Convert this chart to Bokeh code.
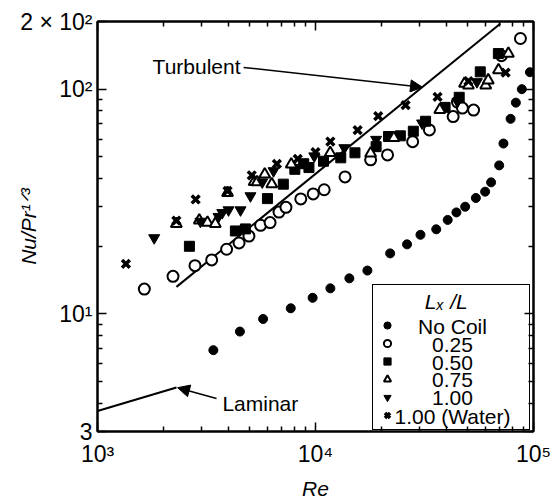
from bokeh.plotting import figure
from bokeh.models import (Range1d, FixedTicker, LogAxis, Legend, LegendItem, Label,
                          Arrow, NormalHead)
from bokeh.embed import file_html
from bokeh.resources import INLINE

# ---------------- data ----------------
RE_NO_COIL = [3400, 4500, 5750, 7700, 9700, 11700, 14300, 17300, 22000, 26300, 30300, 35800,
              40400, 44300, 48600, 54400, 60000, 63900, 69600, 72800, 78500, 83000, 88400, 96300]
NU_NO_COIL = [6.9, 8.35, 9.5, 10.6, 11.8, 13.0, 14.4, 15.6, 18.6, 20.4, 22.5, 23.8,
              26.2, 28.3, 30.0, 32.8, 35.0, 38.5, 45.8, 57.3, 73.8, 87.1, 100.0, 119.0]

RE_025 = [1640, 2220, 2800, 3340, 3910, 4460, 4950, 5600, 6190, 6800, 7320, 8560, 9760, 10960,
          13660, 17900, 21400, 27900, 33300, 42800, 44800, 47200, 53100, 71300, 87100]
NU_025 = [12.9, 14.7, 16.4, 17.4, 19.4, 20.7, 22.2, 24.8, 25.5, 28.4, 29.8, 32.5, 34.2, 35.7,
          40.7, 48.5, 51.0, 58.4, 65.9, 75.5, 87.6, 82.4, 80.7, 141.0, 168.0]

RE_050 = [2640, 4290, 4770, 6020, 7120, 8040, 8830, 9330, 10880, 13060, 15170, 18970, 21630,
          24500, 28100, 31990, 39310, 45630, 57000, 69000]
NU_050 = [20.0, 23.4, 23.9, 32.6, 37.8, 44.0, 46.6, 44.8, 47.8, 49.5, 52.1, 55.5, 61.6,
          62.0, 65.0, 72.0, 83.0, 92.0, 119.4, 144.0]

RE_075 = [2300, 2930, 3195, 3470, 3950, 5230, 5400, 5850, 6300, 7740, 11680, 17900, 22880,
          37160, 48260, 50300, 60390, 62000, 69100, 76700]
NU_075 = [25.2, 26.1, 25.5, 25.2, 34.6, 38.7, 38.6, 41.8, 37.8, 46.3, 52.1, 51.8, 60.7,
          80.9, 106.0, 104.0, 104.0, 109.6, 121.5, 144.0]

RE_100 = [1820, 2966, 3590, 3735, 3990, 4530, 5030, 5700, 6420, 9870, 13560, 18970, 30830,
          44800, 55020]
NU_100 = [21.8, 25.8, 27.1, 28.2, 29.0, 29.0, 33.5, 38.6, 43.3, 50.4, 54.8, 59.7, 70.6,
          88.0, 107.8]

RE_WATER = [1350, 2300, 2820, 3950, 5100, 6650, 8290, 10000, 11700, 15600, 19400, 25900,
            36300, 50300, 74500]
NU_WATER = [16.7, 26.0, 32.3, 35.3, 41.4, 46.5, 49.0, 52.5, 58.5, 65.7, 75.9, 85.0,
            92.5, 108.5, 118.5]

TURB_RE = [2303, 70600]
TURB_NU = [13.2, 196.0]
LAM_RE = [1000, 2303]
LAM_NU = [3.7, 4.71]

X_TICKS = [1000, 10000, 100000]
X_MINOR = [2000, 3000, 4000, 5000, 6000, 7000, 8000, 9000,
           20000, 30000, 40000, 50000, 60000, 70000, 80000, 90000]
X_TICK_LABELS = {1000: "10³", 10000: "10⁴", 100000: "10⁵"}
Y_TICKS = [3, 10, 100, 200]
Y_MINOR = [4, 5, 6, 7, 8, 9, 20, 30, 40, 50, 60, 70, 80, 90]
Y_TICK_LABELS = {3: "3", 10: "10¹", 100: "10²", 200: "2 × 10²"}

NB = "\u00a0"
LEGEND_TITLE = "Lₓ /L"
LEGEND_LABELS = ["No Coil", "0.25", "0.50", "0.75", "1.00", "1.00 (Water)"]
# where the (centred) legend texts sit, in data units of the plot
LEGEND_TEXT_RE = 42500
LEGEND_TEXT_NU = [8.76, 7.30, 6.07, 5.06, 4.21, 3.50]

FONT = "Liberation Sans"

p = figure(width=557, height=502, x_axis_type="log", y_axis_type="log",
           x_range=Range1d(1000, 100000), y_range=Range1d(3, 200),
           output_backend="svg", toolbar_location=None,
           min_border_left=97, min_border_right=24, min_border_top=21, min_border_bottom=69)
p.xgrid.visible = False
p.ygrid.visible = False
p.outline_line_color = "black"
p.outline_line_width = 2
p.background_fill_color = "white"
p.border_fill_color = "white"

xt = FixedTicker(ticks=X_TICKS, minor_ticks=X_MINOR)
yt = FixedTicker(ticks=Y_TICKS, minor_ticks=Y_MINOR)


def style_axis(ax):
    ax.major_tick_in = 9
    ax.major_tick_out = 0
    ax.minor_tick_in = 5
    ax.minor_tick_out = 0
    ax.axis_line_width = 2
    ax.axis_line_color = "black"
    ax.major_tick_line_width = 1.5
    ax.minor_tick_line_width = 1.5
    ax.major_tick_line_color = "black"
    ax.minor_tick_line_color = "black"
    ax.major_label_text_font = FONT
    ax.major_label_text_font_size = "23px"
    ax.major_label_text_color = "black"
    ax.axis_label_text_font = FONT
    ax.axis_label_text_font_size = "21px"
    ax.axis_label_text_font_style = "italic"
    ax.axis_label_text_color = "black"


xa = p.xaxis[0]
xa.ticker = xt
style_axis(xa)
xa.major_label_overrides = X_TICK_LABELS
xa.major_label_standoff = 9
xa.axis_label = "Re"
xa.axis_label_standoff = 7

ya = p.yaxis[0]
ya.ticker = yt
style_axis(ya)
ya.major_label_overrides = Y_TICK_LABELS
ya.major_label_standoff = 5
ya.axis_label = "Nu/Pr¹ᐟ³"
ya.axis_label_standoff = -23

top = LogAxis(ticker=FixedTicker(ticks=X_TICKS, minor_ticks=X_MINOR))
style_axis(top)
top.major_label_overrides = {t: "" for t in X_TICKS}
top.major_label_text_font_size = "0px"
p.add_layout(top, "above")

right = LogAxis(ticker=FixedTicker(ticks=Y_TICKS, minor_ticks=Y_MINOR))
style_axis(right)
right.major_label_overrides = {t: "" for t in Y_TICKS}
right.major_label_text_font_size = "0px"
p.add_layout(right, "right")

# reference lines
p.line(TURB_RE, TURB_NU, line_color="black", line_width=2)
p.line(LAM_RE, LAM_NU, line_color="black", line_width=2)

# data series
r_nc = p.scatter(RE_NO_COIL, NU_NO_COIL, marker="circle", size=9,
                 fill_color="black", line_color="black")
r_025 = p.scatter(RE_025, NU_025, marker="circle", size=11, fill_color="white",
                  line_color="black", line_width=2)
r_050 = p.scatter(RE_050, NU_050, marker="square", size=10, fill_color="black",
                  line_color="black")
r_075 = p.scatter(RE_075, NU_075, marker="triangle", size=11, fill_color="white",
                  line_color="black", line_width=2)
r_100 = p.scatter(RE_100, NU_100, marker="inverted_triangle", size=11, fill_color="black",
                  line_color="black")
r_w = p.scatter(RE_WATER, NU_WATER, marker="x", size=11, line_color="black", line_width=3.5)

# annotations
p.add_layout(Label(x=4530, y=126.5, text="Turbulent", text_align="right",
                   text_baseline="middle", text_font=FONT, text_font_size="21px",
                   text_color="black"))
p.add_layout(Arrow(x_start=4680, y_start=125.0, x_end=30970, y_end=102.0,
                   line_color="black", line_width=1.5,
                   end=NormalHead(size=12, fill_color="black", line_color="black")))
p.add_layout(Label(x=3740, y=4.0, text="Laminar", text_align="left",
                   text_baseline="middle", text_font=FONT, text_font_size="21px",
                   text_color="black"))
p.add_layout(Arrow(x_start=3516, y_start=4.21, x_end=2330, y_end=4.7,
                   line_color="black", line_width=1.5,
                   end=NormalHead(size=12, fill_color="black", line_color="black")))

# legend: box, title and symbols from Bokeh's Legend; the row texts are centred labels
items = [LegendItem(label=NB, renderers=[r])
         for r in [r_nc, r_025, r_050, r_075, r_100, r_w]]
leg = Legend(items=items, title=NB * 8 + LEGEND_TITLE, location=(275, 1),
             title_text_font=FONT, title_text_font_size="21px", title_text_font_style="italic",
             title_text_color="black", title_standoff=2,
             label_text_font=FONT, label_text_font_size="12px",
             label_height=18, glyph_height=18, glyph_width=18, label_standoff=3,
             label_width=125, spacing=0, padding=5, margin=0,
             border_line_color="black", border_line_width=1.5, border_line_alpha=1.0,
             background_fill_alpha=0.0)
p.add_layout(leg)

for lab, yv in zip(LEGEND_LABELS, LEGEND_TEXT_NU):
    p.add_layout(Label(x=LEGEND_TEXT_RE, y=yv, text=lab, text_align="center",
                       text_baseline="middle", text_font=FONT, text_font_size="21px",
                       text_color="black"))

open("out.html", "w").write(file_html(p, INLINE))
